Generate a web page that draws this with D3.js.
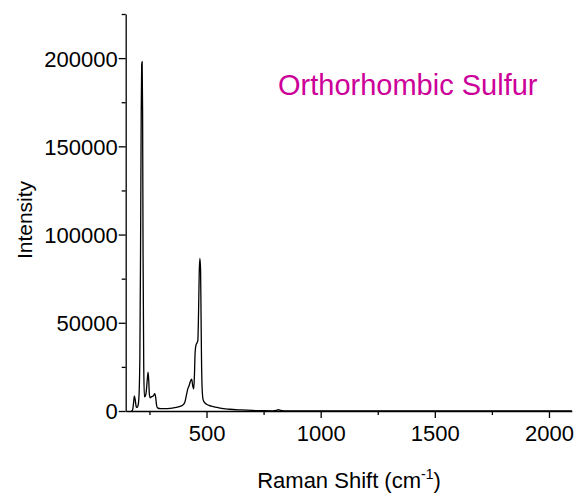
<!DOCTYPE html>
<html>
<head>
<meta charset="utf-8">
<script src="https://cdn.jsdelivr.net/npm/d3@7"></script>
<style>
  html, body { margin: 0; padding: 0; background: #fff; }
  svg { display: block; font-family: "Liberation Sans", Arial, sans-serif; }
</style>
</head>
<body>
<svg id="chart" width="575" height="493"></svg>
<script>
// Raman shift (cm-1) and intensity
const ramanShift = [170, 176, 180, 184, 188, 192, 196, 200, 204, 208, 211, 214, 216, 218, 220, 222, 225, 228,
  232, 236, 240, 244, 247, 250, 254, 258, 263, 268, 273, 277, 281, 285, 300, 320, 340, 360, 380, 395,
  405, 412, 418, 424, 430, 435, 440, 444, 447, 450, 454, 458, 462, 465, 468, 471, 474, 476, 478, 481,
  485, 490, 500, 520, 540, 560, 600, 650, 700, 750, 790, 805, 815, 825, 840, 900, 1000, 1500, 2100];
const intensity = [0, 500, 4000, 8500, 6000, 2500, 2000, 3000, 8000, 30000, 90000, 170000, 196000, 198000, 170000, 90000, 25000, 8000,
  8500, 11000, 17000, 22000, 17000, 9000, 7500, 8000, 8200, 8800, 9800, 8000, 3500, 1800, 1300, 1300, 1500, 1900, 2500, 3300,
  5000, 9000, 12500, 14500, 17000, 18000, 14000, 12500, 20000, 33000, 37500, 38500, 40000, 55000, 78000, 86500, 80000, 55000, 30000, 12000,
  6500, 5000, 3800, 2800, 2200, 1600, 1000, 600, 300, 150, 100, 300, 700, 300, 100, 50, 30, 0, 0];

const xMajorTicks = [500, 1000, 1500, 2000];
const xMinorTicks = [250, 750, 1250, 1750];
const yMajorTicks = [0, 50000, 100000, 150000, 200000];
const yMinorTicks = [25000, 75000, 125000, 175000, 225000];
const titleText = "Orthorhombic Sulfur";
const xLabel = "Raman Shift (cm";
const xLabelSup = "-1";
const yLabel = "Intensity";

const svg = d3.select("#chart");
const x = d3.scaleLinear().domain([146, 2100]).range([125.7, 571.8]);
const y = d3.scaleLinear().domain([0, 225000]).range([411, 14]);

const fontSize = 22;

// Minor ticks
svg.append("g").attr("transform", `translate(0,${y(0)})`)
  .call(d3.axisBottom(x).tickValues(xMinorTicks).tickSize(4).tickSizeOuter(0).tickFormat(""))
  .call(g => g.select(".domain").remove());
svg.append("g").attr("transform", `translate(${x(146)},0)`)
  .call(d3.axisLeft(y).tickValues(yMinorTicks).tickSize(4).tickSizeOuter(0).tickFormat(""))
  .call(g => g.select(".domain").remove());

// Major axes
const xAxis = svg.append("g").attr("transform", `translate(0,${y(0)})`)
  .call(d3.axisBottom(x).tickValues(xMajorTicks).tickSize(7).tickSizeOuter(0).tickPadding(7).tickFormat(d3.format("d")));
const yAxis = svg.append("g").attr("transform", `translate(${x(146)},0)`)
  .call(d3.axisLeft(y).tickValues(yMajorTicks).tickSize(7).tickSizeOuter(0).tickPadding(1).tickFormat(d3.format("d")));

svg.selectAll(".domain, .tick line").attr("stroke", "#000").attr("stroke-width", 1.3);
[xAxis, yAxis].forEach(a => a.selectAll("text")
  .attr("font-size", fontSize).attr("font-family", "Liberation Sans, Arial, sans-serif").attr("fill", "#000"));
xAxis.selectAll("text").attr("dy", "0.71em");
yAxis.selectAll("text").attr("dy", "0.36em");

// Spectrum line
const pts = ramanShift.map((d, i) => [d, intensity[i]]);
svg.append("path")
  .datum(pts)
  .attr("fill", "none")
  .attr("stroke", "#000")
  .attr("stroke-width", 1.3)
  .attr("stroke-linejoin", "round")
  .attr("d", d3.line().x(d => x(d[0])).y(d => y(d[1])).curve(d3.curveMonotoneX));

// Axis titles
const xt = svg.append("text")
  .attr("x", 349).attr("y", 488)
  .attr("text-anchor", "middle")
  .attr("font-size", fontSize)
  .attr("fill", "#000");
xt.append("tspan").text(xLabel);
xt.append("tspan").attr("font-size", 14).attr("dy", -9).text(xLabelSup);
xt.append("tspan").attr("dy", 9).text(")");

svg.append("text")
  .attr("transform", "translate(32,220) rotate(-90)")
  .attr("text-anchor", "middle")
  .attr("font-size", 21)
  .attr("fill", "#000")
  .text(yLabel);

// Title
svg.append("text")
  .attr("x", 278).attr("y", 95)
  .attr("font-size", 29)
  .attr("fill", "#cc0099")
  .text(titleText);
</script>
</body>
</html>
